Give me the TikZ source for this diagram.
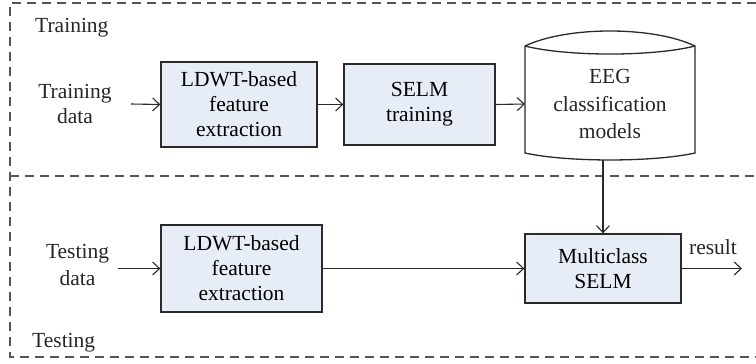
\documentclass[tikz,border=0pt]{standalone}
\usepackage{fontspec}
\setmainfont{Liberation Serif}
\usetikzlibrary{arrows.meta}
\definecolor{boxfill}{HTML}{E6EDF6}
\definecolor{lineclr}{HTML}{2A2A2A}
\definecolor{dashclr}{HTML}{555555}
\tikzset{
  procbox/.style={draw=lineclr, line width=1.3pt, fill=boxfill, align=center, inner sep=0pt},
  lbl/.style={align=center, inner sep=0pt, text=black!85},
  conn/.style={draw=lineclr, line width=1.1pt, -{Straight Barb[length=7pt,width=13pt,line width=1.1pt]}},
  frame/.style={draw=dashclr, line width=1.2pt, dash pattern=on 9pt off 6pt},
}
\begin{document}
\begin{tikzpicture}[x=1pt,y=-1pt, font=\fontsize{21.5}{25}\selectfont]
\useasboundingbox (0,0) rectangle (756,364);
% frame
\draw[frame] (756,3) -- (10,3) -- (10,357) -- (756,357);
\draw[frame] (10,176) -- (756,176);
\node[lbl, anchor=west] (trainlbl) at (35,28) {Training};
\node[lbl, anchor=west] (testlbl) at (32,343) {Testing};
% training row
\node[lbl] (traindata) at (75,104) {Training\\data};
\node[procbox, minimum width=156pt, minimum height=85pt] (ldwt1) at (239,104.5) {LDWT-based\\feature\\extraction};
\node[procbox, minimum width=151pt, minimum height=81pt] (selm) at (419.5,104.5) {SELM\\training};
% cylinder
\draw[draw=lineclr, line width=1.3pt, fill=white]
  (525,46) .. controls (567,26) and (653,26) .. (695,46)
  -- (695,153) .. controls (653,162.3) and (567,162.3) .. (525,153) -- cycle;
\draw[draw=lineclr, line width=1.3pt]
  (525,46) .. controls (567,56.7) and (653,56.7) .. (695,46);
\node[lbl, font=\fontsize{21.5}{27.5}\selectfont] (eeg) at (610,104) {EEG\\classification\\models};
\coordinate (cylleft) at (525,104);
\coordinate (cylbot) at (603,160);
% testing row
\node[lbl, font=\fontsize{21.5}{27}\selectfont] (testdata) at (77.5,265) {Testing\\data};
\node[procbox, minimum width=161pt, minimum height=87pt] (ldwt2) at (241.5,268.5) {LDWT-based\\feature\\extraction};
\node[procbox, minimum width=156pt, minimum height=69pt] (multi) at (603,268.5) {Multiclass\\SELM};
\coordinate (resend) at (742,268.5);
\node[lbl] (result) at (713,247) {result};
% connectors
\draw[conn] (131,104) -- (ldwt1.west);
\draw[conn] (ldwt1.east) -- (selm.west);
\draw[conn] (selm.east) -- (cylleft);
\draw[conn] (cylbot) -- (multi.north);
\draw[conn] (118,268.5) -- (ldwt2.west);
\draw[conn] (ldwt2.east) -- (multi.west);
\draw[conn] (multi.east) -- (resend);
\end{tikzpicture}
\end{document}
